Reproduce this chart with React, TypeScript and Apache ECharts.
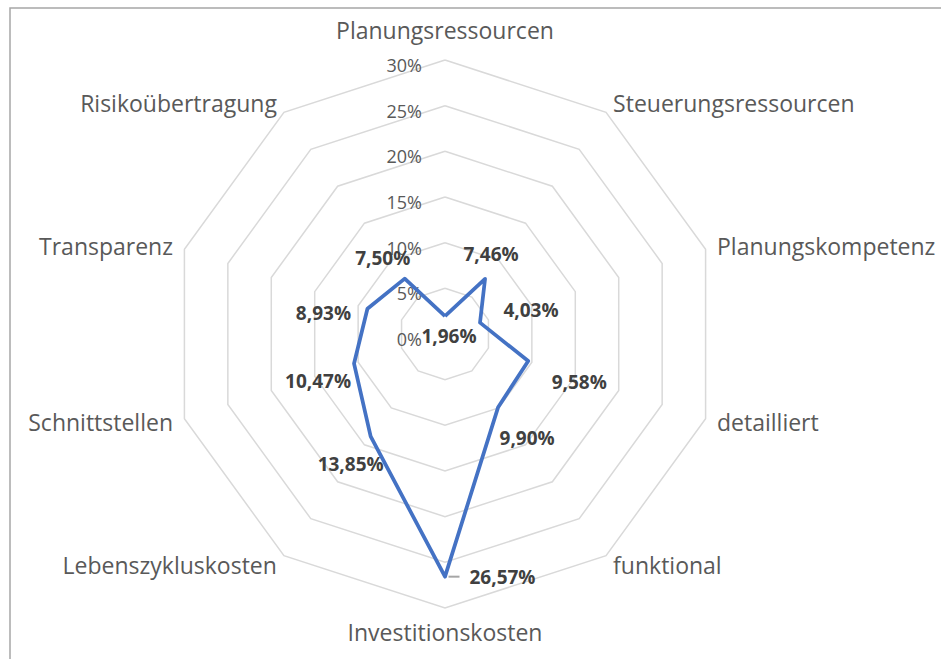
import React, { useEffect, useRef } from "react";
import * as echarts from "echarts";

// ---- data (clockwise order, starting at the top) ----
const categories: string[] = [
  "Planungsressourcen",
  "Steuerungsressourcen",
  "Planungskompetenz",
  "detailliert",
  "funktional",
  "Investitionskosten",
  "Lebenszykluskosten",
  "Schnittstellen",
  "Transparenz",
  "Risikoübertragung",
];
const values: number[] = [1.96, 7.46, 4.03, 9.58, 9.9, 26.57, 13.85, 10.47, 8.93, 7.5];
const axisMin = 0;
const axisMax = 30;
const axisSplits = 6; // ticks 0%,5%,...,30%

// ---- styling (label offsets relative to each point, in px; clockwise order) ----
const labelOffsets: [number, number][] = [
  [4, 20],
  [6, -25],
  [51, -13],
  [51, 21],
  [29, 31],
  [47, 0],
  [-20, 28],
  [-36, 17],
  [-44, 4],
  [-22, -21],
];
const leaderIndex = 5; // label with a short leader line

const fmt = (v: number) => v.toFixed(2).replace(".", ",") + "%";

// ECharts radar runs counter-clockwise: keep the first axis on top, reverse the rest
const order: number[] = [0, ...categories.map((_, i) => i).slice(1).reverse()];

export default function App() {
  const ref = useRef<HTMLDivElement>(null);
  useEffect(() => {
    if (!ref.current) return;
    const chart = echarts.init(ref.current, undefined, { renderer: "svg" });
    const texts = values.map(fmt);
    const font = "'Open Sans', 'Noto Sans', sans-serif";
    chart.setOption({
      animation: false,
      backgroundColor: "#ffffff",
      textStyle: { fontFamily: font },
      graphic: [
        {
          type: "rect",
          silent: true,
          shape: { x: 10, y: 8, width: 1000, height: 700 },
          style: { fill: "none", stroke: "#a6a6a6", lineWidth: 1.5 },
        },
      ],
      radar: {
        center: [445, 334],
        radius: 274,
        startAngle: 90,
        shape: "polygon",
        splitNumber: axisSplits,
        nameGap: 12,
        axisName: { color: "#595959", fontSize: 23, fontFamily: font },
        axisLine: { show: false },
        axisTick: { show: false },
        splitArea: { show: false },
        splitLine: { lineStyle: { color: "#d9d9d9", width: 1.5 } },
        axisLabel: { show: false },
        indicator: order.map((i) => {
          const ind: any = { name: categories[i], min: axisMin, max: axisMax };
          if (i === 0) {
            ind.nameGap = 19;
            ind.axisLabel = {
              show: true,
              color: "#595959",
              fontSize: 18,
              fontFamily: font,
              margin: 23,
              verticalAlign: "top",
              lineHeight: 10,
              formatter: "{value}%",
            };
          }
          return ind;
        }),
      },
      series: [
        {
          type: "radar",
          symbol: "circle",
          symbolSize: 1,
          itemStyle: { color: "rgba(0,0,0,0)" },
          lineStyle: { color: "#4472c4", width: 3.75 },
          label: {
            show: true,
            position: "inside",
            color: "#404040",
            fontSize: 19,
            fontWeight: "bold",
            fontFamily: font,
            formatter: (p: any) => {
              const idx = texts.indexOf(fmt(p.value));
              return idx === leaderIndex ? "{lead|}{v|" + fmt(p.value) + "}" : fmt(p.value);
            },
            rich: {
              lead: { width: 11, height: 2, backgroundColor: "#a6a6a6" },
              v: {
                color: "#404040",
                fontSize: 19,
                fontWeight: "bold",
                fontFamily: font,
                padding: [0, 0, 0, 10],
              },
            },
          },
          labelLayout: (params: any) => {
            const t = String(params.text || "").replace(/\{[a-z]+\|/g, "").replace(/\}/g, "");
            const idx = texts.indexOf(t);
            if (idx < 0) return {};
            return { dx: labelOffsets[idx][0], dy: labelOffsets[idx][1] };
          },
          data: [{ value: order.map((i) => values[i]), name: "Anteil" }],
        },
      ],
    });
    return () => chart.dispose();
  }, []);
  return (
    <div
      ref={ref}
      style={{ position: "absolute", left: 0, top: 0, width: 941, height: 659 }}
    />
  );
}
